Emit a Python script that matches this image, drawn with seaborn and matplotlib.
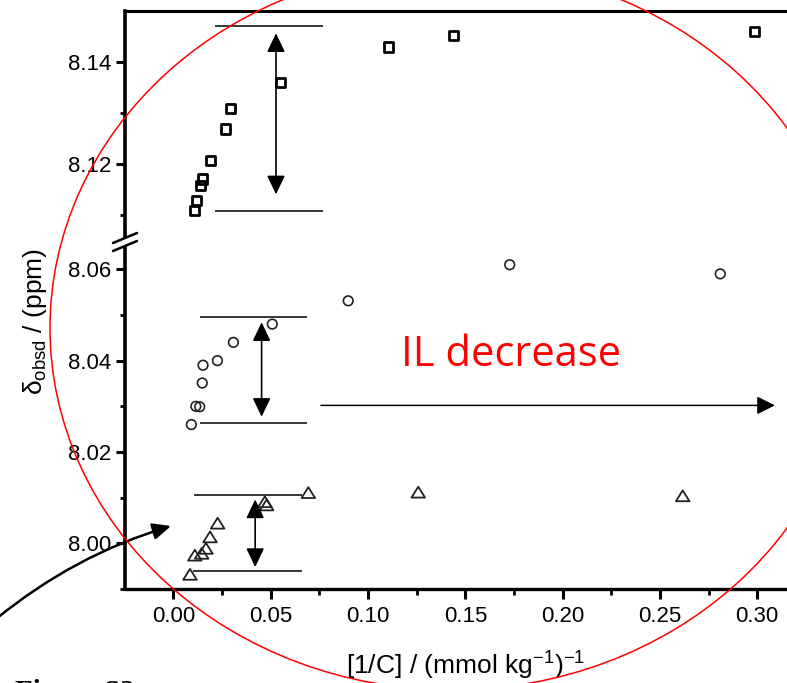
import numpy as np
import pandas as pd
import matplotlib
matplotlib.use("Agg")
import matplotlib.pyplot as plt
import seaborn as sns
from matplotlib.path import Path
from matplotlib.patches import Ellipse, FancyArrowPatch, Polygon
from matplotlib.lines import Line2D
from matplotlib.ticker import FixedLocator, MultipleLocator, FormatStrFormatter

# ---- observed chemical shifts vs inverse concentration ----
inv_conc_sq = [0.0107, 0.0117, 0.0141, 0.0150, 0.0191, 0.0268, 0.0295, 0.0552, 0.1105, 0.1438, 0.2985]
shift_sq = [8.1109, 8.1129, 8.1159, 8.1171, 8.1208, 8.1269, 8.1310, 8.1360, 8.1430, 8.1452, 8.1460]

inv_conc_ci = [0.0092, 0.0115, 0.0135, 0.0148, 0.0152, 0.0226, 0.0308, 0.0508, 0.0898, 0.1728, 0.2810]
shift_ci = [8.0260, 8.0300, 8.0299, 8.0351, 8.0390, 8.0400, 8.0440, 8.0480, 8.0531, 8.0610, 8.0590]

inv_conc_tr = [0.0085, 0.0110, 0.0145, 0.0167, 0.0188, 0.0227, 0.0470, 0.0479, 0.0693, 0.1258, 0.2617]
shift_tr = [7.9932, 7.9974, 7.9978, 7.9989, 8.0014, 8.0044, 8.0091, 8.0084, 8.0111, 8.0112, 8.0104]

x_ticks = [0.00, 0.05, 0.10, 0.15, 0.20, 0.25, 0.30]
y_ticks_upper = [8.12, 8.14]
y_ticks_lower = [8.00, 8.02, 8.04, 8.06]

df_sq = pd.DataFrame({"x": inv_conc_sq, "y": shift_sq})
df_ci = pd.DataFrame({"x": inv_conc_ci, "y": shift_ci})
df_tr = pd.DataFrame({"x": inv_conc_tr, "y": shift_tr})

sns.set_theme(style="ticks")
plt.rcParams["font.family"] = ["Liberation Sans", "DejaVu Sans"]
plt.rcParams["mathtext.fontset"] = "custom"
plt.rcParams["mathtext.rm"] = "Liberation Sans"
plt.rcParams["mathtext.it"] = "Liberation Sans:italic"
for key in ["text.color", "axes.labelcolor", "xtick.color", "ytick.color", "axes.edgecolor"]:
    plt.rcParams[key] = "black"

W, H = 787, 683
fig = plt.figure(figsize=(W / 100, H / 100), dpi=100)
fig.patch.set_facecolor("white")


def fx(px):
    return px / W


def fy(py):
    return 1 - py / H


left, right = 125, 787
top_px, brk_px, bot_px = 10.7, 242, 589
ax_top = fig.add_axes([fx(left), fy(brk_px), (right - left) / W, (brk_px - top_px) / H])
ax_bot = fig.add_axes([fx(left), fy(bot_px), (right - left) / W, (bot_px - brk_px) / H])

xlim = (-0.0249, 0.3153)
ax_top.set_xlim(*xlim)
ax_bot.set_xlim(*xlim)
ax_top.set_ylim(8.10476, 8.15012)
ax_bot.set_ylim(7.98999, 8.06598)

# markers
sq_marker = "s"
tri_marker = Path([(-0.5, -0.4), (0.5, -0.4), (0.0, 0.4), (-0.5, -0.4)],
                  [Path.MOVETO, Path.LINETO, Path.LINETO, Path.CLOSEPOLY])

sns.scatterplot(data=df_sq, x="x", y="y", ax=ax_top, marker=sq_marker, s=44,
                facecolor="none", edgecolor="black", linewidth=2.0, zorder=3, legend=False)
sns.scatterplot(data=df_ci, x="x", y="y", ax=ax_bot, marker="o", s=48,
                facecolor="none", edgecolor="#222222", linewidth=1.2, zorder=3, legend=False)
sns.scatterplot(data=df_tr, x="x", y="y", ax=ax_bot, marker=tri_marker, s=95,
                facecolor="none", edgecolor="#222222", linewidth=1.3, zorder=3, legend=False)

for ax in (ax_top, ax_bot):
    ax.set_xlabel("")
    ax.set_ylabel("")
    ax.spines["right"].set_visible(False)
    ax.spines["left"].set_linewidth(2.6)
    ax.yaxis.set_major_formatter(FormatStrFormatter("%.2f"))
    ax.tick_params(axis="y", which="major", direction="out", length=6.5, width=2.2,
                   labelsize=16, pad=3.5)
    ax.tick_params(axis="y", which="minor", direction="out", length=3.5, width=2.0)

# upper panel
ax_top.spines["bottom"].set_visible(False)
ax_top.spines["top"].set_linewidth(2.2)
ax_top.tick_params(axis="x", which="both", bottom=False, labelbottom=False)
ax_top.yaxis.set_major_locator(FixedLocator(y_ticks_upper))
ax_top.yaxis.set_minor_locator(FixedLocator([8.11, 8.13]))

# lower panel
ax_bot.spines["top"].set_visible(False)
ax_bot.spines["bottom"].set_linewidth(2.4)
ax_bot.yaxis.set_major_locator(FixedLocator(y_ticks_lower))
ax_bot.yaxis.set_minor_locator(FixedLocator([7.99, 8.01, 8.03, 8.05]))
ax_bot.xaxis.set_major_locator(FixedLocator(x_ticks))
ax_bot.xaxis.set_minor_locator(MultipleLocator(0.025))
ax_bot.xaxis.set_major_formatter(FormatStrFormatter("%.2f"))
ax_bot.tick_params(axis="x", which="major", direction="out", length=7, width=2.2,
                   labelsize=16, pad=5)
ax_bot.tick_params(axis="x", which="minor", direction="out", length=4, width=2.0)

ax_bot.set_xlabel(r"[1/C] / (mmol kg$^{\mathrm{-1}}$)$^{\mathrm{-1}}$", fontsize=19)
ax_bot.xaxis.label.set_va("baseline")
ax_bot.xaxis.set_label_coords((466 - left) / (right - left), (bot_px - 675) / (bot_px - brk_px))

ax_bot.set_ylabel(r"δ$_{\mathrm{obsd}}$ / (ppm)", fontsize=19)
ax_bot.yaxis.label.set_va("center")
ax_bot.yaxis.set_label_coords((35 - left) / (right - left), (bot_px - 322) / (bot_px - brk_px))

# range brackets with double-headed arrows
dbl = dict(arrowstyle="<|-|>,head_length=1.15,head_width=0.55", lw=1.2, color="black",
           shrinkA=0, shrinkB=0, mutation_scale=10)
ax_top.hlines([8.1471, 8.1108], 0.0213, 0.0767, color="black", lw=1.1)
ax_top.annotate("", xy=(0.0527, 8.1457), xytext=(0.0527, 8.1141), arrowprops=dbl)

ax_bot.hlines([8.0495, 8.0264], 0.0136, 0.0688, color="black", lw=1.1)
ax_bot.annotate("", xy=(0.0453, 8.0484), xytext=(0.0453, 8.0277), arrowprops=dbl)

ax_bot.hlines([8.0106], 0.0107, 0.0660, color="black", lw=1.1)
ax_bot.hlines([7.9940], 0.0102, 0.0659, color="black", lw=1.1)
ax_bot.annotate("", xy=(0.0420, 8.0096), xytext=(0.0420, 7.9948), arrowprops=dbl)

# long arrow: direction of decreasing IL concentration
ax_bot.annotate("", xy=(0.3091, 8.0302), xytext=(0.0758, 8.0302),
                arrowprops=dict(arrowstyle="-|>,head_length=1.1,head_width=0.55", lw=1.1,
                                color="black", shrinkA=0, shrinkB=0, mutation_scale=10),
                annotation_clip=False)

fig.text(fx(401), fy(366), "IL decrease", color="red", family="Open Sans",
         fontsize=30, va="baseline", ha="left")

# axis break marks on the left spine
yc1, yc2, dxm, dym = 238, 246, 12, 5
brk_poly = Polygon([(fx(left - dxm), fy(yc1 + dym)), (fx(left + dxm), fy(yc1 - dym)),
                    (fx(left + dxm), fy(yc2 - dym)), (fx(left - dxm), fy(yc2 + dym))],
                   closed=True, transform=fig.transFigure, facecolor="white",
                   edgecolor="none", zorder=10)
fig.add_artist(brk_poly)
for yc in (yc1, yc2):
    fig.add_artist(Line2D([fx(left - dxm), fx(left + dxm)], [fy(yc + dym), fy(yc - dym)],
                          transform=fig.transFigure, color="black", lw=1.8, zorder=11))

# curved pointer arrow from the lower left
curved = FancyArrowPatch(posA=(fx(-4), fy(619)), posB=(fx(171), fy(526)),
                         connectionstyle="arc3,rad=-0.1",
                         arrowstyle="-|>,head_length=1.1,head_width=0.5",
                         mutation_scale=10, lw=1.8, color="black",
                         transform=fig.transFigure, shrinkA=0, shrinkB=0, zorder=12)
fig.add_artist(curved)

# red highlighting ellipse
ell = Ellipse((fx(452), fy(328)), width=2 * 402 / W, height=2 * 362 / H,
              transform=fig.transFigure, fill=False, edgecolor="red", lw=1.1, zorder=13)
fig.add_artist(ell)

# caption, running off the bottom edge
fig.text(fx(15), fy(700), "Figure S2", family="Liberation Serif", weight="bold",
         fontsize=21, va="baseline", ha="left")

fig.savefig("out.png", dpi=100)
